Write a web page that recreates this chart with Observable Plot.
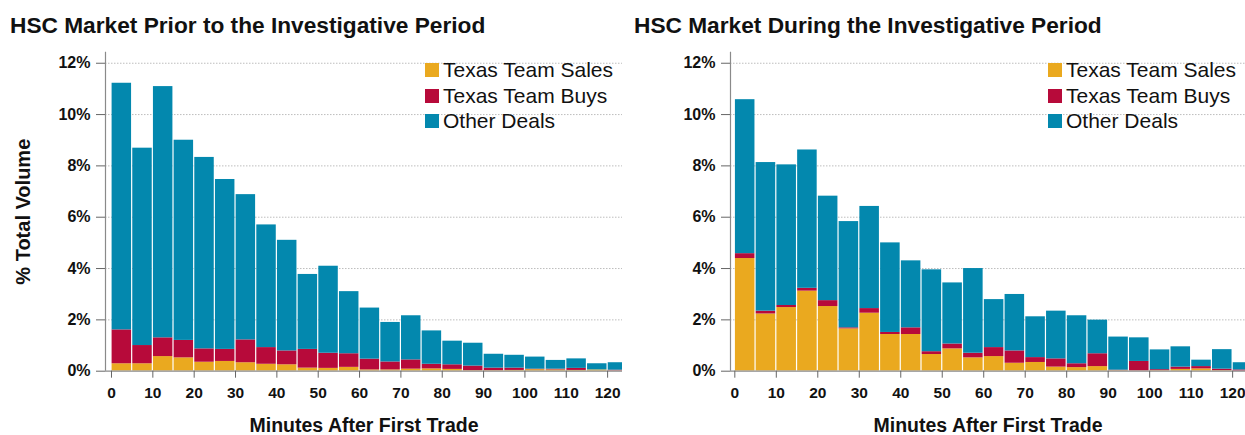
<!DOCTYPE html>
<html>
<head>
<meta charset="utf-8">
<script src="https://cdn.jsdelivr.net/npm/d3@7"></script>
<script src="https://cdn.jsdelivr.net/npm/@observablehq/plot@0.6"></script>
<style>
  html, body { margin: 0; padding: 0; background: #fff; }
  #wrap { position: relative; width: 1245px; height: 435px; overflow: hidden; font-family: "Liberation Sans", Arial, sans-serif; }
  .panel { position: absolute; top: 0; }
  .title { position: absolute; top: 12px; font-size: 22.7px; font-weight: bold; color: #111; white-space: nowrap; }
  .legend { position: absolute; top: 57px; font-size: 21px; color: #111; }
  .legend div { height: 25.7px; line-height: 20px; display: flex; align-items: center; white-space: nowrap; }
  .legend span.sw { display: inline-block; width: 14px; height: 14px; margin-right: 4px; }
</style>
</head>
<body>
<div id="wrap"></div>
<script>
const minutes = [0,5,10,15,20,25,30,35,40,45,50,55,60,65,70,75,80,85,90,95,100,105,110,115,120];
const seriesNames = ["Texas Team Sales", "Texas Team Buys", "Other Deals"];
const seriesColors = ["#EAA91F", "#B70A3A", "#0388AE"];
const yTicks = [0,2,4,6,8,10,12];
const xTicks = [0,10,20,30,40,50,60,70,80,90,100,110,120];

// Prior to the investigative period (% of total volume per 5-minute bin)
const priorSales = [0.29,0.29,0.57,0.52,0.35,0.38,0.33,0.27,0.25,0.12,0.11,0.15,0.05,0.05,0.08,0.09,0.07,0.02,0.02,0.03,0.06,0.05,0.03,0.05,0.01];
const priorBuys  = [1.32,0.71,0.73,0.68,0.52,0.47,0.89,0.65,0.54,0.73,0.59,0.53,0.42,0.31,0.36,0.18,0.18,0.18,0.10,0.09,0.02,0.03,0.08,0.00,0.03];
const priorOther = [9.61,7.69,9.79,7.80,7.46,6.62,5.66,4.78,4.31,2.92,3.39,2.42,1.99,1.54,1.72,1.30,0.92,0.89,0.54,0.50,0.47,0.34,0.37,0.24,0.29];

// During the investigative period
const duringSales = [4.39,2.23,2.48,3.12,2.52,1.65,2.26,1.43,1.43,0.65,0.87,0.52,0.57,0.31,0.34,0.16,0.14,0.18,0.02,0.01,0.02,0.07,0.09,0.02,0.00];
const duringBuys  = [0.19,0.11,0.08,0.11,0.23,0.04,0.18,0.08,0.26,0.11,0.19,0.18,0.35,0.48,0.19,0.32,0.15,0.50,0.02,0.37,0.04,0.09,0.09,0.06,0.05];
const duringOther = [6.00,5.79,5.48,5.39,4.07,4.14,3.98,3.49,2.61,3.19,2.38,3.30,1.87,2.20,1.59,1.86,1.87,1.31,1.29,0.92,0.77,0.79,0.25,0.76,0.28];

function rowsOf(sales, buys, other) {
  const rows = [];
  const cols = [sales, buys, other];
  minutes.forEach((m, i) => {
    cols.forEach((c, k) => rows.push({start: m, end: m + 5, series: seriesNames[k], value: c[i]}));
  });
  return rows;
}

function panel({left, width, marginRight, xDomain, title, titleX, legendX, rows, yLabel}) {
  const wrap = document.getElementById("wrap");
  const chart = Plot.plot({
    width, height: 435,
    marginLeft: 105, marginRight, marginTop: 51.7, marginBottom: 64.3,
    style: {fontFamily: "'Liberation Sans', Arial, sans-serif", background: "white", color: "#111"},
    x: {domain: xDomain},
    y: {domain: [0, 12.43]},
    color: {domain: seriesNames, range: seriesColors},
    marks: [
      Plot.gridY(yTicks.slice(1), {stroke: "#bdbdbd", strokeOpacity: 1, strokeDasharray: "1.5,1.5", strokeWidth: 1}),
      Plot.rectY(rows, {x1: "start", x2: "end", y: "value", fill: "series", insetLeft: 0.6, insetRight: 0.6, clip: true, order: seriesNames}),
      Plot.ruleY([0], {stroke: "#8a8a8a", strokeWidth: 1.2}),
      Plot.ruleX([xDomain[0]], {stroke: "#8a8a8a", strokeWidth: 1.2}),
      Plot.axisX(xTicks, {tickSize: 7, tickPadding: 9, fontSize: 15.5, fontWeight: "bold", stroke: "#666",
        label: "Minutes After First Trade", labelArrow: false, labelAnchor: "center", labelOffset: 61}),
      Plot.axisY(yTicks, {tickSize: 9, tickPadding: 6, fontSize: 16, fontWeight: "bold", stroke: "#666",
        tickFormat: d => d + "%", label: yLabel, labelArrow: false, labelAnchor: "center", labelOffset: 90})
    ]
  });
  chart.querySelectorAll("[aria-label='x-axis label'] text, [aria-label='y-axis label'] text").forEach(t => {
    t.setAttribute("font-weight", "bold");
    t.setAttribute("font-size", t.closest("[aria-label='y-axis label']") ? 20 : 19.5);
    t.textContent = t.textContent.replace(/\s*[→↑←↓]\s*/g, "");
  });
  const holder = document.createElement("div");
  holder.className = "panel";
  holder.style.left = left + "px";
  holder.appendChild(chart);
  wrap.appendChild(holder);

  const t = document.createElement("div");
  t.className = "title";
  t.style.left = titleX + "px";
  t.textContent = title;
  wrap.appendChild(t);

  const lg = document.createElement("div");
  lg.className = "legend";
  lg.style.left = legendX + "px";
  seriesNames.forEach((n, k) => {
    const r = document.createElement("div");
    r.innerHTML = `<span class="sw" style="background:${seriesColors[k]}"></span>${n}`;
    lg.appendChild(r);
  });
  wrap.appendChild(lg);
}

panel({left: 0, width: 630, marginRight: 8, xDomain: [-1.45, 123.6], title: "HSC Market Prior to the Investigative Period",
  titleX: 10, legendX: 425, rows: rowsOf(priorSales, priorBuys, priorOther), yLabel: "% Total Volume"});
panel({left: 625, width: 620, marginRight: 0, xDomain: [-1.04, 123.1], title: "HSC Market During the Investigative Period",
  titleX: 634, legendX: 1048, rows: rowsOf(duringSales, duringBuys, duringOther), yLabel: null});
</script>
</body>
</html>
